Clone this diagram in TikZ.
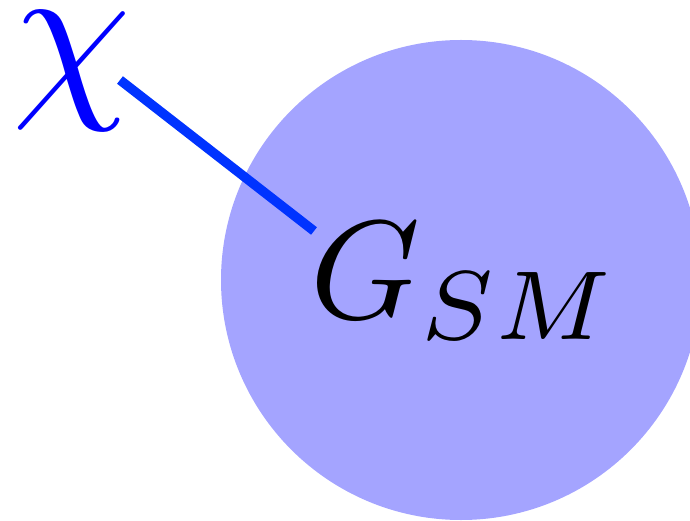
\documentclass[tikz,border=0pt]{standalone}
\definecolor{blobfill}{RGB}{164,164,255}
\definecolor{linkblue}{RGB}{0,51,255}
\tikzset{
  blob/.style={circle, fill=blobfill, draw=none, minimum size=480pt, inner sep=0pt},
  bigmath/.style={inner sep=0pt, text=black},
  link/.style={draw=linkblue, line width=9.5pt, line cap=butt}
}
\begin{document}
\begin{tikzpicture}[x=1pt,y=-1pt]
\useasboundingbox (0,0) rectangle (690,521);
\node[blob] (blob) at (461,280) {};
\node[bigmath, scale=14] (gsm) at (465,281) {$G_{SM}$};
\node[bigmath, text=blue, scale=19] (chi) at (72,71) {$\chi$};
\coordinate (linkstart) at (120,80);
\coordinate (linkend) at (314,231);
\draw[link] (linkstart) -- (linkend);
\end{tikzpicture}
\end{document}
